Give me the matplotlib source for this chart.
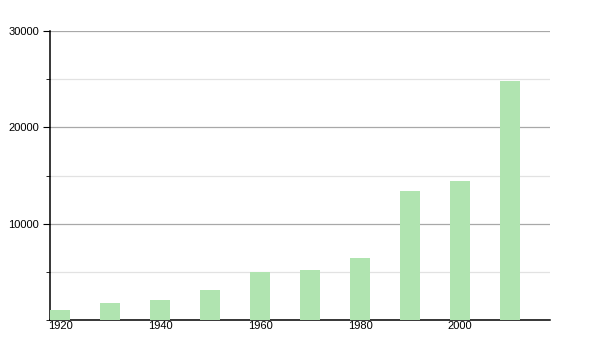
import matplotlib
matplotlib.use("Agg")
import matplotlib.pyplot as plt
from matplotlib.ticker import MultipleLocator

years = [1920, 1930, 1940, 1950, 1960, 1970, 1980, 1990, 2000, 2010]
population = [1050, 1800, 2100, 3150, 5000, 5200, 6450, 13400, 14400, 24850]
xticks = [1920, 1940, 1960, 1980, 2000]
yticks = [10000, 20000, 30000]

plt.rcParams['font.family'] = ['Liberation Sans', 'DejaVu Sans']

fig = plt.figure(figsize=(6, 3.5), dpi=100)
ax = fig.add_axes([50/600, 1-320/350, 500/600, 289/350])

ax.bar(years, population, width=4, color='#b0e4b0', zorder=3)

ax.set_xlim(1918, 2018)
ax.set_ylim(0, 30000)
ax.set_xticks(xticks)
ax.set_yticks(yticks)
ax.yaxis.set_minor_locator(MultipleLocator(5000))
ax.grid(axis='y', which='major', color='#a8a8a8', lw=0.9, zorder=0)
ax.grid(axis='y', which='minor', color='#e2e2e2', lw=0.9, zorder=0)

for s in ['top', 'right']:
    ax.spines[s].set_visible(False)
ax.spines['left'].set_linewidth(1.1)
ax.spines['bottom'].set_linewidth(1.1)
ax.tick_params(axis='x', length=0, labelsize=8, pad=1)
ax.tick_params(axis='y', which='major', length=5, labelsize=8, pad=3)
ax.tick_params(axis='y', which='minor', length=3)

fig.savefig('out.png', dpi=100)
